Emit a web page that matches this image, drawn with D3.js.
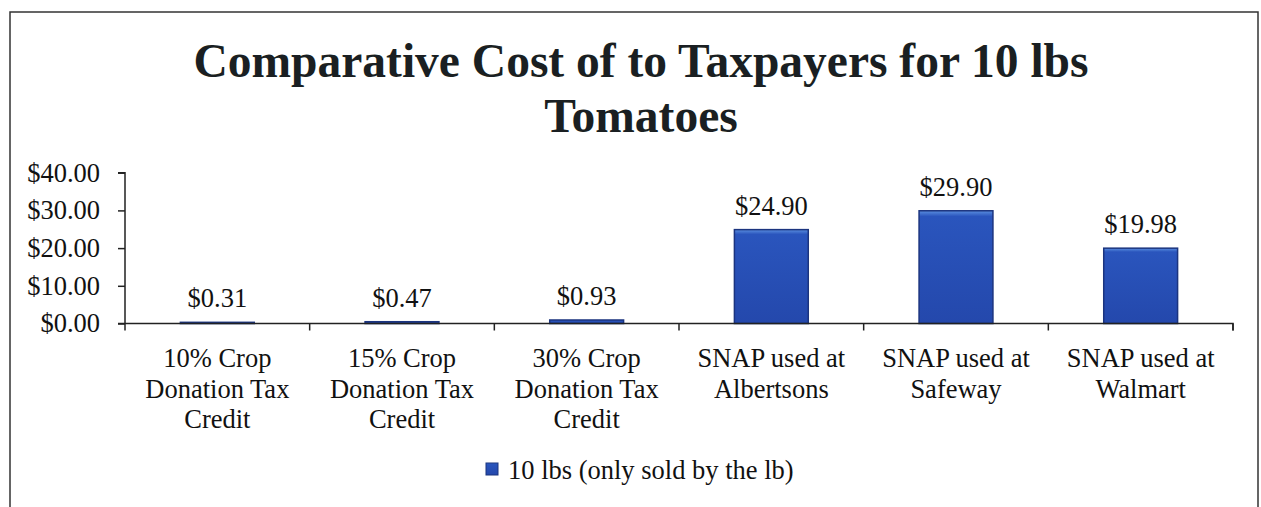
<!DOCTYPE html>
<html>
<head>
<meta charset="utf-8">
<script src="https://cdn.jsdelivr.net/npm/d3@7"></script>
<style>
  body { margin: 0; background: #fff; }
  text { font-family: "Liberation Serif", "Times New Roman", serif; fill: #111; }
</style>
</head>
<body>
<div id="chart"></div>
<script>
// data
var categories = [
  ["10% Crop", "Donation Tax", "Credit"],
  ["15% Crop", "Donation Tax", "Credit"],
  ["30% Crop", "Donation Tax", "Credit"],
  ["SNAP used at", "Albertsons"],
  ["SNAP used at", "Safeway"],
  ["SNAP used at", "Walmart"]
];
var values = [0.31, 0.47, 0.93, 24.90, 29.90, 19.98];
var valueLabels = ["$0.31", "$0.47", "$0.93", "$24.90", "$29.90", "$19.98"];
var yTicks = [0, 10, 20, 30, 40];
var seriesName = "10 lbs (only sold by the lb)";
var titleLines = ["Comparative Cost of to Taxpayers for 10 lbs", "Tomatoes"];

//setup
var width = 1261,
    height = 507;
var plotLeft = 125, plotRight = 1233,
    plotTop = 172.7, plotBottom = 323.5;
var fontSize = "26.5px";

var svg = d3.select("#chart").append("svg")
    .attr("width", width)
    .attr("height", height);

var defs = svg.append("defs");
var grad = defs.append("linearGradient")
    .attr("id", "barGrad").attr("x1", 0).attr("y1", 0).attr("x2", 0).attr("y2", 1);
grad.append("stop").attr("offset", "0%").attr("stop-color", "#5b8fe0");
grad.append("stop").attr("offset", "5%").attr("stop-color", "#2a55bd");
grad.append("stop").attr("offset", "100%").attr("stop-color", "#2448ac");

// frame
svg.append("path")
    .attr("d", "M10," + height + " L10,12 L1258,12 L1258," + height)
    .attr("fill", "none")
    .attr("stroke", "#333")
    .attr("stroke-width", 1.5);

// title
svg.selectAll(".title").data(titleLines)
    .enter().append("text")
    .attr("class", "title")
    .attr("x", 641)
    .attr("y", function (d, i) { return 77 + i * 55; })
    .attr("text-anchor", "middle")
    .style("font-size", "47.5px")
    .style("font-weight", "bold")
    .style("fill", "#1a1f22")
    .text(function (d) { return d; });

var xScale = d3.scaleBand()
    .domain(d3.range(values.length))
    .range([plotLeft, plotRight])
    .paddingInner(0.6)
    .paddingOuter(0.3);

var xTickScale = d3.scaleBand()
    .domain(d3.range(values.length))
    .range([plotLeft, plotRight]);

var yScale = d3.scaleLinear()
    .domain([0, 40])
    .range([plotBottom, plotTop]);

// bars
svg.selectAll(".bar").data(values)
    .enter().append("rect")
    .attr("class", "bar")
    .attr("x", function (d, i) { return xScale(i); })
    .attr("width", xScale.bandwidth())
    .attr("y", function (d) { return yScale(d); })
    .attr("height", function (d) { return plotBottom - yScale(d); })
    .attr("fill", "url(#barGrad)")
    .attr("stroke", "#1b347f")
    .attr("stroke-width", 1.5);

// value labels
svg.selectAll(".vlabel").data(values)
    .enter().append("text")
    .attr("class", "vlabel")
    .attr("x", function (d, i) { return xScale(i) + xScale.bandwidth() / 2; })
    .attr("y", function (d) { return yScale(d) - 15; })
    .attr("text-anchor", "middle")
    .style("font-size", fontSize)
    .text(function (d, i) { return valueLabels[i]; });

// y axis
var yAxis = svg.append("g")
    .attr("transform", "translate(" + plotLeft + ",0)")
    .call(d3.axisLeft(yScale).tickValues(yTicks).tickSize(7).tickPadding(18)
        .tickFormat(function (d) { return "$" + d3.format(".2f")(d); }));
yAxis.select(".domain").attr("stroke", "#222").attr("stroke-width", 1.5)
    .attr("d", "M-7," + plotTop + "H0V" + plotBottom);
yAxis.selectAll(".tick line").attr("stroke", "#222").attr("stroke-width", 1.5);
yAxis.selectAll(".tick text")
    .style("font-size", fontSize)
    .style("font-family", "'Liberation Serif', serif")
    .attr("fill", "#111");

// x axis
var xAxis = svg.append("g")
    .attr("transform", "translate(0," + plotBottom + ")")
    .call(d3.axisBottom(xTickScale).tickSize(0).tickFormat(""));
xAxis.select(".domain").attr("stroke", "#222").attr("stroke-width", 1.5)
    .attr("d", "M" + (plotLeft - 7) + ",0H" + plotRight + "V7");
xAxis.selectAll(".tick").remove();
xAxis.selectAll(".xtick").data(d3.range(values.length + 1))
    .enter().append("line")
    .attr("class", "xtick")
    .attr("x1", function (d) { return plotLeft + d * xTickScale.step(); })
    .attr("x2", function (d) { return plotLeft + d * xTickScale.step(); })
    .attr("y1", 0).attr("y2", 7)
    .attr("stroke", "#222").attr("stroke-width", 1.5);

// category labels
var cat = svg.selectAll(".cat").data(categories)
    .enter().append("text")
    .attr("class", "cat")
    .attr("text-anchor", "middle")
    .style("font-size", fontSize);
cat.selectAll("tspan").data(function (d, i) {
        return d.map(function (t) { return { t: t, i: i }; });
    })
    .enter().append("tspan")
    .attr("x", function (d) { return xTickScale(d.i) + xTickScale.bandwidth() / 2; })
    .attr("y", function (d, j) { return 367 + j * 30.5; })
    .text(function (d) { return d.t; });

// legend
var legend = svg.append("g").attr("transform", "translate(486,470)");
legend.append("rect")
    .attr("x", 0).attr("y", -7).attr("width", 12).attr("height", 12)
    .attr("fill", "url(#barGrad)").attr("stroke", "#1b347f");
legend.append("text")
    .attr("x", 22).attr("y", 9)
    .style("font-size", fontSize)
    .text(seriesName);
</script>
</body>
</html>
